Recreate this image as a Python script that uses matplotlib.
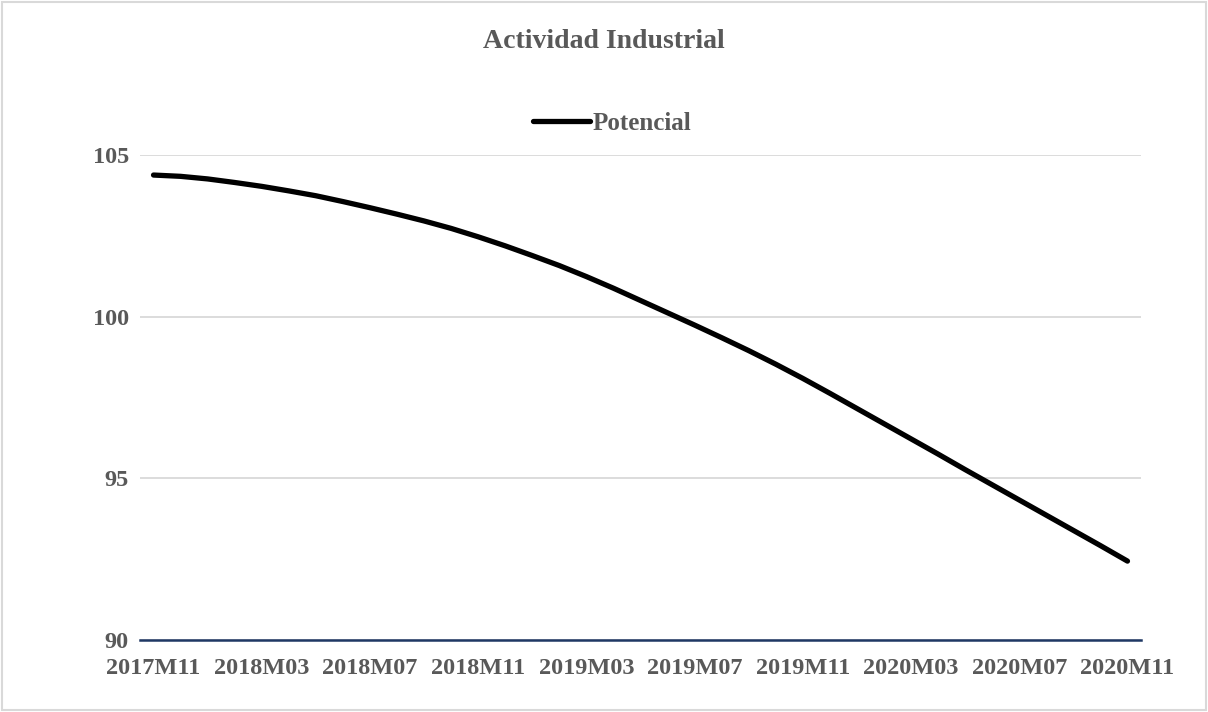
import pandas as pd
import matplotlib
matplotlib.use('Agg')
import matplotlib.pyplot as plt
from matplotlib.patches import Rectangle

# monthly categories 2017M11 .. 2020M11
periods = pd.period_range('2017-11', '2020-11', freq='M')
labels = [f"{p.year}M{p.month:02d}" for p in periods]

# trend of industrial activity (index)
potencial = [104.38, 104.34, 104.26, 104.15, 104.03, 103.89, 103.74, 103.56,
             103.37, 103.17, 102.96, 102.73, 102.47, 102.19, 101.89, 101.58,
             101.24, 100.88, 100.50, 100.12, 99.74, 99.35, 98.95, 98.53,
             98.09, 97.63, 97.16, 96.69, 96.22, 95.75, 95.27, 94.80,
             94.33, 93.86, 93.39, 92.92, 92.44]

y_ticks = [90, 95, 100, 105]

TEXT = '#595959'
plt.rcParams['font.family'] = ['Liberation Serif', 'DejaVu Serif']
plt.rcParams['font.weight'] = 'bold'

fig = plt.figure(figsize=(12.08, 7.12), dpi=100)
ax = fig.add_axes([140 / 1208, 1 - 640 / 712, 1001 / 1208, 485 / 712])

x = range(len(potencial))
ax.plot(x, potencial, color='black', linewidth=3.8, solid_capstyle='round',
        label='Potencial')

ax.set_xlim(-0.5, len(potencial) - 0.5)
ax.set_ylim(90, 105)
ax.set_yticks(y_ticks)
ax.set_xticks(list(x)[::4])
ax.set_xticklabels(labels[::4])

for s in ['top', 'right', 'left']:
    ax.spines[s].set_visible(False)
ax.spines['bottom'].set_color('#1f3864')
ax.spines['bottom'].set_linewidth(1.8)
ax.spines['bottom'].set_zorder(3)

ax.grid(axis='y', color='#d9d9d9', linewidth=1.3)
ax.set_axisbelow(True)
ax.tick_params(axis='both', length=0, colors=TEXT, labelsize=17.5)
ax.tick_params(axis='x', pad=13)
ax.tick_params(axis='y', pad=8)

fig.text(0.5, 1 - 42 / 712, 'Actividad Industrial', ha='center', va='center',
         fontsize=20, color=TEXT, fontweight='bold')

leg = fig.legend(loc='center', bbox_to_anchor=(612 / 1208, 1 - 123 / 712),
                 frameon=False, fontsize=18, handlelength=2.3,
                 handletextpad=0.1, borderpad=0)
for t in leg.get_texts():
    t.set_color(TEXT)

# thin grey frame around the chart area
fig.patches.append(Rectangle((2 / 1208, 2 / 712), 1 - 4 / 1208, 1 - 4 / 712,
                             transform=fig.transFigure, fill=False,
                             edgecolor='#d9d9d9', linewidth=1.5))

fig.savefig('out.png', dpi=100, facecolor='white')
